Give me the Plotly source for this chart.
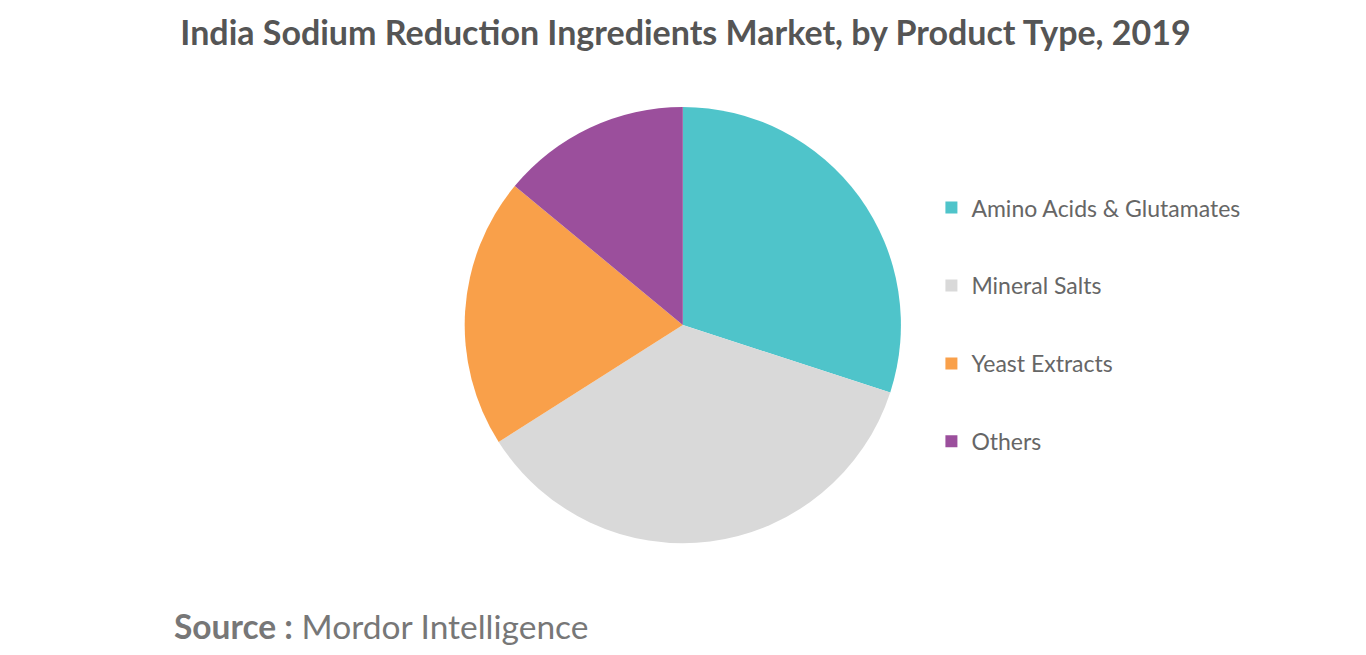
import plotly.graph_objects as go

# Data
labels = ["Amino Acids & Glutamates", "Mineral Salts", "Yeast Extracts", "Others"]
values = [30, 36, 20, 14]
colors = ["#4FC4CA", "#D9D9D9", "#F9A04A", "#9B4F9C"]

fig = go.Figure()
fig.add_trace(go.Pie(
    labels=labels, values=values, sort=False, direction="clockwise", rotation=0,
    marker=dict(colors=colors), textinfo="none", hoverinfo="label+percent",
    showlegend=False, domain=dict(x=[0.334, 0.654], y=[0.183, 0.849]),
))

# legend entries as dummy traces so the gap between items can be set
for i, (lab, col) in enumerate(zip(labels, colors)):
    fig.add_trace(go.Scatter(
        x=[None], y=[None], mode="markers", name=lab, legendgroup=str(i),
        marker=dict(symbol="square", size=14, color=col),
    ))

fig.update_layout(
    width=1366, height=655,
    margin=dict(l=0, r=0, t=0, b=0),
    paper_bgcolor="white", plot_bgcolor="white",
    font=dict(family="Lato", color="#666"),
    xaxis=dict(visible=False), yaxis=dict(visible=False),
    title=dict(text="<b>India Sodium Reduction Ingredients Market, by Product Type, 2019</b>",
               x=0.496, xanchor="center", y=0.962, yanchor="middle",
               font=dict(size=34, color="#555", family="Lato")),
    legend=dict(x=0.676, y=0.728, yanchor="top", xanchor="left",
                font=dict(size=23, color="#666"), tracegroupgap=45,
                itemsizing="constant"),
    annotations=[dict(
        text="<b>Source :</b> Mordor Intelligence", x=0.12, y=0.056,
        xref="paper", yref="paper", xanchor="left", yanchor="middle",
        showarrow=False, font=dict(size=33.5, color="#777", family="Lato"),
    )],
)

fig.write_html("out.html")
